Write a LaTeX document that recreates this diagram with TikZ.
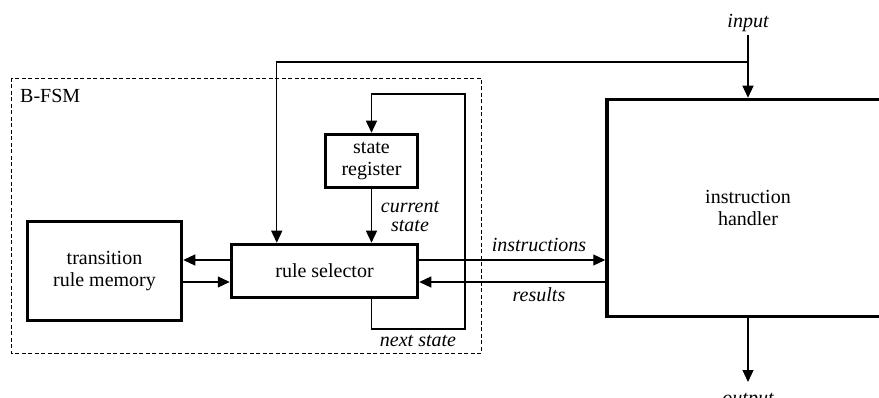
\documentclass[tikz,border=0pt]{standalone}
\usepackage{fontspec}
\setmainfont{Liberation Serif}
\usetikzlibrary{arrows.meta,calc}
\begin{document}
\begin{tikzpicture}[x=1pt,y=-1pt,
  txt/.style={font=\fontsize{20}{21.5}\selectfont},
  lbl/.style={font=\fontsize{20}{19}\selectfont\itshape, inner sep=0pt, align=center},
  block/.style={draw, line width=3.5pt, rectangle, txt, align=center, inner sep=0pt},
  wire/.style={line width=1.2pt},
  arr/.style={wire, -{Triangle[length=12pt,width=11pt]}},
  fsmframe/.style={draw, dashed, line width=0.8pt, dash pattern=on 4pt off 2.5pt}
]
\useasboundingbox (0,0) rectangle (879,398);

% B-FSM enclosure
\draw[fsmframe] (11,78) rectangle (481,353);
\node[txt, anchor=base west, inner sep=0pt] (fsmname) at (20,103) {B-FSM};

% blocks
\node[block, minimum width=154pt, minimum height=99pt] (trm) at (104.5,271) {transition\\rule memory};
\node[block, minimum width=186pt, minimum height=53pt] (rs) at (324.5,271) {rule selector};
\node[block, minimum width=92pt, minimum height=53pt] (sr) at (371.5,161) {state\\register};
\node[block, minimum width=282pt, minimum height=217pt] (ih) at (748,208) {instruction\\handler};

% helper points for the routed wires
\coordinate (inTop) at (748,35);
\coordinate (inJoin) at (748,62);
\coordinate (loopBR) at (465,329);
\coordinate (loopTR) at (465,94);
\coordinate (outEnd) at (748,382);

% rule selector <-> transition rule memory
\draw[arr] ([yshift=11pt]rs.west) -- ([yshift=11pt]rs.west -| trm.east);
\draw[arr] ([yshift=-11pt]trm.east -| trm.east) -- ([yshift=-11pt]rs.west);

% rule selector <-> instruction handler
\draw[arr] ([yshift=11pt]rs.east) -- ([yshift=11pt]rs.east -| ih.west);
\draw[arr] ([yshift=-11pt]rs.east -| ih.west) -- ([yshift=-11pt]rs.east);

% current state
\draw[arr] (sr.south) -- (sr.south |- rs.north);

% next state feedback loop
\draw[arr] (rs.south -| sr.south) |- (loopBR) -- (loopTR) -| (sr.north);

% input distribution
\draw[arr] (inTop) -- (ih.north);
\draw[arr] (inJoin) -| ([xshift=47pt]rs.north west);

% output
\draw[arr] (ih.south) -- (outEnd);

% signal labels
\node[lbl, anchor=base] (linput) at (748,28) {input};
\node[lbl, anchor=base] (loutput) at (748,404) {output};
\node[lbl, anchor=base] (linstr) at (539,252) {instructions};
\node[lbl, anchor=base] (lres) at (539,302) {results};
\node[lbl, anchor=base] (lcur1) at (410,213) {current};
\node[lbl, anchor=base] (lcur2) at (410,232) {state};
\node[lbl, anchor=base] (lnext) at (418,347) {next state};
\end{tikzpicture}
\end{document}
